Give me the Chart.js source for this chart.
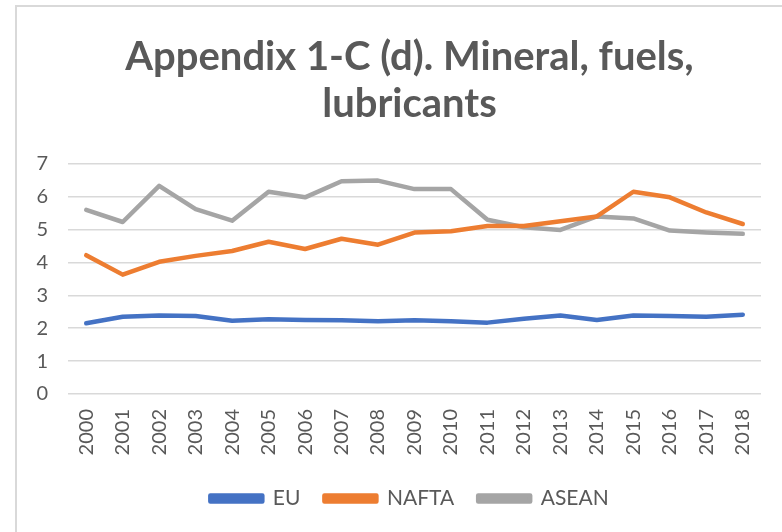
<!DOCTYPE html>
<html>
<head>
<meta charset="utf-8">
<script src="https://cdn.jsdelivr.net/npm/chart.js@4/dist/chart.umd.min.js"></script>
<style>
  html, body { margin: 0; padding: 0; background: #fff; overflow: hidden; }
  #frame { position: absolute; left: 15px; top: 5px; width: 900px; height: 600px; border: 2px solid #d9d9d9; }
  #chart { position: absolute; left: 0; top: 0; }
</style>
</head>
<body>
<div id="frame"></div>
<canvas id="chart" width="782" height="532"></canvas>
<script>
// Data
const years = ['2000', '2001', '2002', '2003', '2004', '2005', '2006', '2007', '2008', '2009',
  '2010', '2011', '2012', '2013', '2014', '2015', '2016', '2017', '2018'];
const euValues = [2.15, 2.35, 2.39, 2.37, 2.23, 2.27, 2.25, 2.24, 2.21, 2.24,
  2.21, 2.17, 2.29, 2.39, 2.25, 2.39, 2.37, 2.35, 2.41];
const naftaValues = [4.22, 3.63, 4.02, 4.2, 4.35, 4.63, 4.41, 4.72, 4.54, 4.91,
  4.95, 5.11, 5.11, 5.25, 5.4, 6.15, 5.98, 5.52, 5.17];
const aseanValues = [5.6, 5.23, 6.33, 5.62, 5.27, 6.15, 5.98, 6.47, 6.49, 6.23,
  6.23, 5.3, 5.07, 4.99, 5.4, 5.34, 4.97, 4.91, 4.87];
const yTicks = [0, 1, 2, 3, 4, 5, 6, 7];

const textColor = '#595959';
const gridColor = '#d9d9d9';

function lineSet(label, data, color) {
  return {
    label: label,
    data: data,
    borderColor: color,
    backgroundColor: color,
    borderWidth: 4.5,
    borderCapStyle: 'round',
    borderJoinStyle: 'round',
    pointRadius: 0,
    tension: 0
  };
}

// Excel centres the title and legend on the whole frame, not on the plot
const centreShift = {
  id: 'centreShift',
  afterLayout(chart) {
    [chart.titleBlock, chart.legend].forEach(box => {
      box.left += 23;
      box.right += 23;
    });
  }
};

new Chart(document.getElementById('chart'), {
  type: 'line',
  data: {
    labels: years,
    datasets: [
      lineSet('EU', euValues, '#4472c4'),
      lineSet('NAFTA', naftaValues, '#ed7d31'),
      lineSet('ASEAN', aseanValues, '#a5a5a5')
    ]
  },
  plugins: [centreShift],
  options: {
    responsive: false,
    animation: false,
    layout: { padding: { left: 0, right: 9, top: 0, bottom: 13 } },
    plugins: {
      title: {
        display: true,
        text: ['Appendix 1-C (d). Mineral, fuels,', 'lubricants'],
        color: textColor,
        font: { family: 'Lato', size: 40, weight: 'bold', lineHeight: 1.16 },
        padding: { top: 34, bottom: 37 }
      },
      legend: {
        position: 'bottom',
        labels: {
          color: textColor,
          font: { family: 'Lato', size: 21 },
          boxWidth: 52,
          boxHeight: 6,
          padding: 24
        }
      },
      tooltip: { enabled: false }
    },
    scales: {
      x: {
        offset: true,
        grid: { display: false, drawTicks: false },
        border: { display: false },
        ticks: {
          color: textColor,
          font: { family: 'Lato', size: 20 },
          minRotation: 90,
          maxRotation: 90,
          autoSkip: false,
          padding: 15
        },
        afterFit: function(scale) { scale.height = 70; }
      },
      y: {
        min: 0,
        max: 7,
        afterBuildTicks: function(scale) { scale.ticks = yTicks.map(v => ({ value: v })); },
        grid: { color: gridColor, lineWidth: 1.5, drawTicks: false },
        border: { display: false },
        ticks: {
          color: textColor,
          font: { family: 'Lato', size: 20 },
          padding: 20
        },
        afterFit: function(scale) { scale.width = 68; }
      }
    }
  }
});
</script>
</body>
</html>
